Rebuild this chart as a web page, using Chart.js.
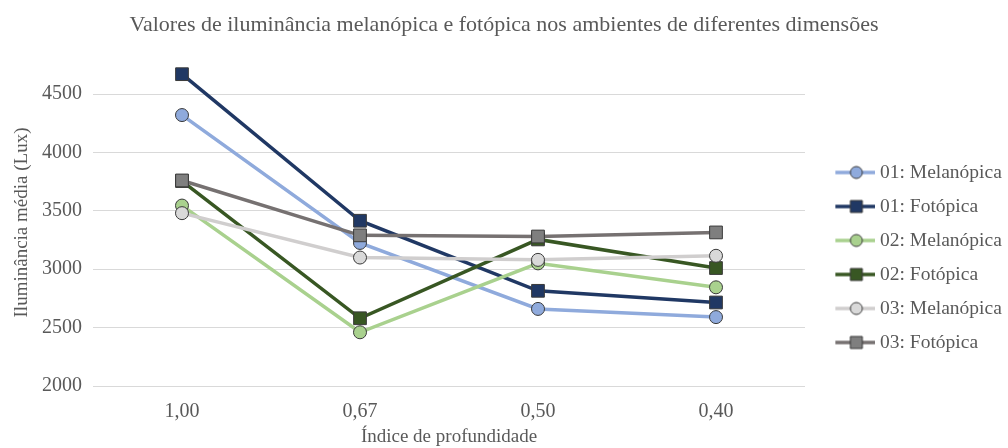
<!DOCTYPE html>
<html lang="pt">
<head>
  <meta charset="UTF-8">
  <title>Iluminância melanópica e fotópica</title>
  <script src="https://cdn.jsdelivr.net/npm/chart.js"></script>
  <style>
    body {
      margin: 0;
      background-color: #ffffff;
    }
    #grafico {
      display: block;
    }
  </style>
</head>
<body>
  <canvas id="grafico" width="1008" height="448"></canvas>

  <script>
    // Índice de profundidade (eixo x)
    const categorias = ['1,00', '0,67', '0,50', '0,40'];

    // Iluminância média (lux) por ambiente
    const mel01 = [4320, 3225, 2660, 2590];
    const fot01 = [4670, 3415, 2815, 2715];
    const mel02 = [3545, 2460, 3050, 2845];
    const fot02 = [3755, 2580, 3255, 3010];
    const mel03 = [3480, 3100, 3080, 3115];
    const fot03 = [3760, 3290, 3280, 3315];

    const nomes = ['01: Melanópica', '01: Fotópica', '02: Melanópica',
                   '02: Fotópica', '03: Melanópica', '03: Fotópica'];
    const valores = [mel01, fot01, mel02, fot02, mel03, fot03];

    const yTicks = [2000, 2500, 3000, 3500, 4000, 4500];

    const cores = ['#8faadc', '#203864', '#a9d18e', '#385723', '#d0cece', '#767171'];
    const preenchimento = ['#8faadc', '#203864', '#a9d18e', '#385723', '#d9d9d9', '#7f7f7f'];
    const marcadores = ['circle', 'rect', 'circle', 'rect', 'circle', 'rect'];

    const fonte = "'Liberation Serif', 'Times New Roman', serif";
    const cinzaTexto = '#595959';

    // linha + marcador para a legenda
    function iconeLegenda(i) {
      const c = document.createElement('canvas');
      c.width = 61;
      c.height = 16;
      const ctx = c.getContext('2d');
      ctx.strokeStyle = cores[i];
      ctx.lineWidth = 3.5;
      ctx.beginPath();
      ctx.moveTo(21, 8);
      ctx.lineTo(61, 8);
      ctx.stroke();
      ctx.fillStyle = preenchimento[i];
      ctx.strokeStyle = '#3a3a3a';
      ctx.lineWidth = 1;
      ctx.beginPath();
      if (marcadores[i] === 'circle') {
        ctx.arc(42, 8, 6, 0, Math.PI * 2);
      } else {
        ctx.rect(36, 2, 12, 12);
      }
      ctx.fill();
      ctx.stroke();
      return c;
    }
    const icones = nomes.map((n, i) => iconeLegenda(i));

    const datasets = valores.map((v, i) => ({
      label: nomes[i],
      data: v,
      borderColor: cores[i],
      backgroundColor: preenchimento[i],
      borderWidth: 3.5,
      pointStyle: marcadores[i],
      pointRadius: marcadores[i] === 'circle' ? 6.5 : 9,
      pointBackgroundColor: preenchimento[i],
      pointBorderColor: '#3a3a3a',
      pointBorderWidth: 1,
      tension: 0,
      order: valores.length - 1 - i // última série por cima
    }));

    new Chart(document.getElementById('grafico'), {
      type: 'line',
      data: {
        labels: categorias,
        datasets: datasets
      },
      options: {
        responsive: false,
        animation: false,
        devicePixelRatio: 1,
        layout: {
          padding: 0
        },
        plugins: {
          tooltip: { enabled: false },
          title: {
            display: true,
            text: 'Valores de iluminância melanópica e fotópica nos ambientes de diferentes dimensões',
            color: cinzaTexto,
            font: { family: fonte, size: 22, weight: 'normal' },
            padding: { top: 12, bottom: 20.6 }
          },
          legend: {
            position: 'right',
            maxWidth: 203,
            title: {
              display: true,
              text: '',
              padding: { top: 43.6, bottom: 0 },
              font: { family: fonte, size: 19.5 }
            },
            labels: {
              usePointStyle: true,
              pointStyleWidth: 50.75,
              padding: 14.5,
              color: cinzaTexto,
              font: { family: fonte, size: 19.5 },
              generateLabels: (chart) => chart.data.datasets.map((ds, i) => ({
                text: ds.label,
                pointStyle: icones[i],
                fillStyle: preenchimento[i],
                strokeStyle: cores[i],
                lineWidth: 0,
                fontColor: cinzaTexto,
                hidden: !chart.isDatasetVisible(i),
                datasetIndex: i
              }))
            }
          }
        },
        scales: {
          x: {
            offset: true,
            grid: { display: false, drawTicks: false },
            border: { display: false },
            ticks: {
              padding: 14,
              color: cinzaTexto,
              font: { family: fonte, size: 20 }
            },
            title: {
              display: true,
              text: 'Índice de profundidade',
              color: cinzaTexto,
              font: { family: fonte, size: 19 },
              padding: { top: -12.8, bottom: 0 }
            }
          },
          y: {
            min: 2000,
            max: 4800,
            afterBuildTicks: (scale) => {
              scale.ticks = yTicks.map(v => ({ value: v }));
            },
            grid: { color: '#d9d9d9', lineWidth: 1, drawTicks: false },
            border: { display: false },
            ticks: {
              padding: 11,
              color: cinzaTexto,
              font: { family: fonte, size: 20 },
              callback: (v) => String(v)
            },
            title: {
              display: true,
              text: 'Iluminância média (Lux)',
              color: cinzaTexto,
              font: { family: fonte, size: 19 },
              padding: { top: 10.6, bottom: -2.4 }
            }
          }
        }
      }
    });
  </script>
</body>
</html>
